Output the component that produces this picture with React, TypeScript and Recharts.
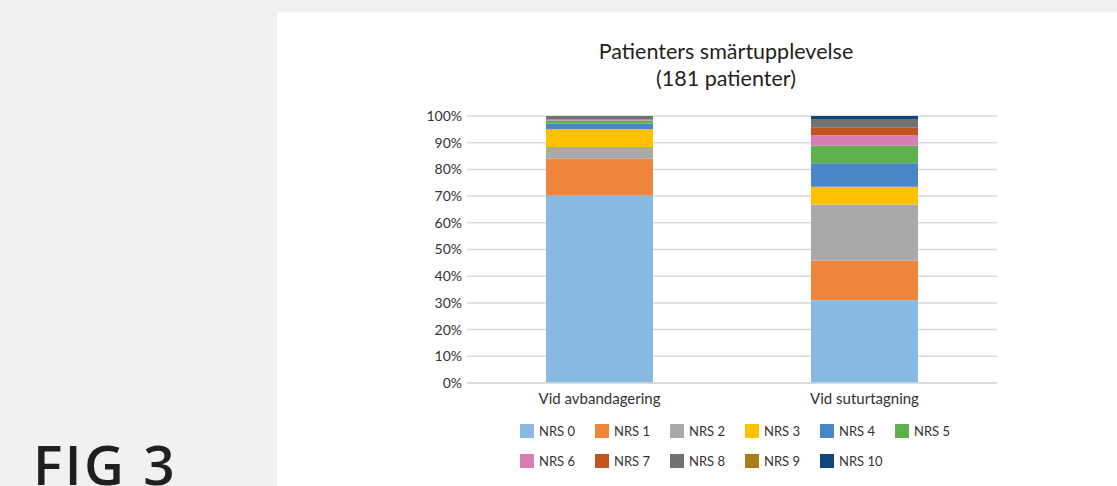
import React from 'react';
import { BarChart, Bar, XAxis, YAxis, CartesianGrid, Legend } from 'recharts';

// Andel patienter (%) per NRS-nivå
const categories = ['Vid avbandagering', 'Vid suturtagning'];
const seriesNames = ['NRS 0', 'NRS 1', 'NRS 2', 'NRS 3', 'NRS 4', 'NRS 5', 'NRS 6', 'NRS 7', 'NRS 8', 'NRS 9', 'NRS 10'];
const nrs0 = [70.2, 31.0];
const nrs1 = [13.8, 14.9];
const nrs2 = [4.4, 21.0];
const nrs3 = [6.6, 6.6];
const nrs4 = [2.2, 8.8];
const nrs5 = [1.1, 6.6];
const nrs6 = [0.6, 3.9];
const nrs7 = [0, 2.8];
const nrs8 = [1.1, 3.3];
const nrs9 = [0, 0];
const nrs10 = [0, 1.1];
const yTicks = [0, 10, 20, 30, 40, 50, 60, 70, 80, 90, 100];

const seriesValues = [nrs0, nrs1, nrs2, nrs3, nrs4, nrs5, nrs6, nrs7, nrs8, nrs9, nrs10];
const colors = ['#88b9e3', '#ef853d', '#a9a9a9', '#ffc000', '#4a86c6', '#5cb14d', '#d87db2', '#c0561c', '#727272', '#a87c17', '#0f467c'];

const data = categories.map((name, i) => {
    const row: Record<string, string | number> = { name };
    seriesNames.forEach((s, j) => {
        row[s] = seriesValues[j][i];
    });
    return row;
});

const FONT = 'Lato, "DejaVu Sans", sans-serif';

const LegendGrid = () => (
    <div style={{ display: 'flex', flexWrap: 'wrap', width: 460, fontFamily: FONT, fontSize: 13, color: '#333' }}>
        {seriesNames.map((s, i) => (
            <div key={s} style={{ width: 75, height: 30, display: 'flex', alignItems: 'flex-start' }}>
                <span style={{ display: 'inline-block', width: 14, height: 14, background: colors[i], marginRight: 5 }} />
                <span style={{ lineHeight: '14px' }}>{s}</span>
            </div>
        ))}
    </div>
);

const App = () => {
    return (
        <div style={{ position: 'absolute', left: 0, top: 0, width: 1117, height: 486, background: '#f0f2f0', overflow: 'hidden' }}>
            <div style={{ position: 'absolute', left: 33, top: 429, fontFamily: '"Open Sans", Lato, sans-serif', fontSize: 55, fontWeight: 600, letterSpacing: 2.5, color: '#1e1f21', lineHeight: '70px', whiteSpace: 'nowrap' }}>
                FIG 3
            </div>
            <div style={{ position: 'absolute', left: 277, top: 12, width: 840, height: 474, background: '#ffffff' }}>
                <div style={{ position: 'absolute', left: 249, top: 26, width: 400, textAlign: 'center', fontFamily: FONT, fontSize: 21.5, lineHeight: '27px', color: '#231f20' }}>
                    Patienters smärtupplevelse
                    <br />
                    (181 patienter)
                </div>
                <BarChart
                    width={840}
                    height={474}
                    data={data}
                    margin={{ top: 104, right: 120, left: 0, bottom: 73 }}
                    barCategoryGap={0}
                >
                    <CartesianGrid vertical={false} stroke="#d9d9d9" strokeWidth={1.5} />
                    <XAxis
                        dataKey="name"
                        height={30}
                        axisLine={{ stroke: '#d9d9d9', strokeWidth: 1.5 }}
                        tickLine={false}
                        tickMargin={4}
                        tick={{ fontFamily: FONT, fontSize: 15, fill: '#333' }}
                    />
                    <YAxis
                        width={190}
                        domain={[0, 100]}
                        ticks={yTicks}
                        allowDataOverflow
                        axisLine={false}
                        tickLine={false}
                        tickSize={5}
                        tickMargin={0}
                        tickFormatter={(v: number) => `${v}%`}
                        tick={{ fontFamily: FONT, fontSize: 14, fill: '#333' }}
                    />
                    <Legend
                        layout="horizontal"
                        verticalAlign="middle"
                        align="center"
                        content={() => <LegendGrid />}
                        wrapperStyle={{ top: 412, left: 243, width: 460 }}
                    />
                    {seriesNames.map((s, i) => (
                        <Bar key={s} dataKey={s} stackId="a" fill={colors[i]} barSize={107} isAnimationActive={false} />
                    ))}
                </BarChart>
            </div>
        </div>
    );
};

export default App;
